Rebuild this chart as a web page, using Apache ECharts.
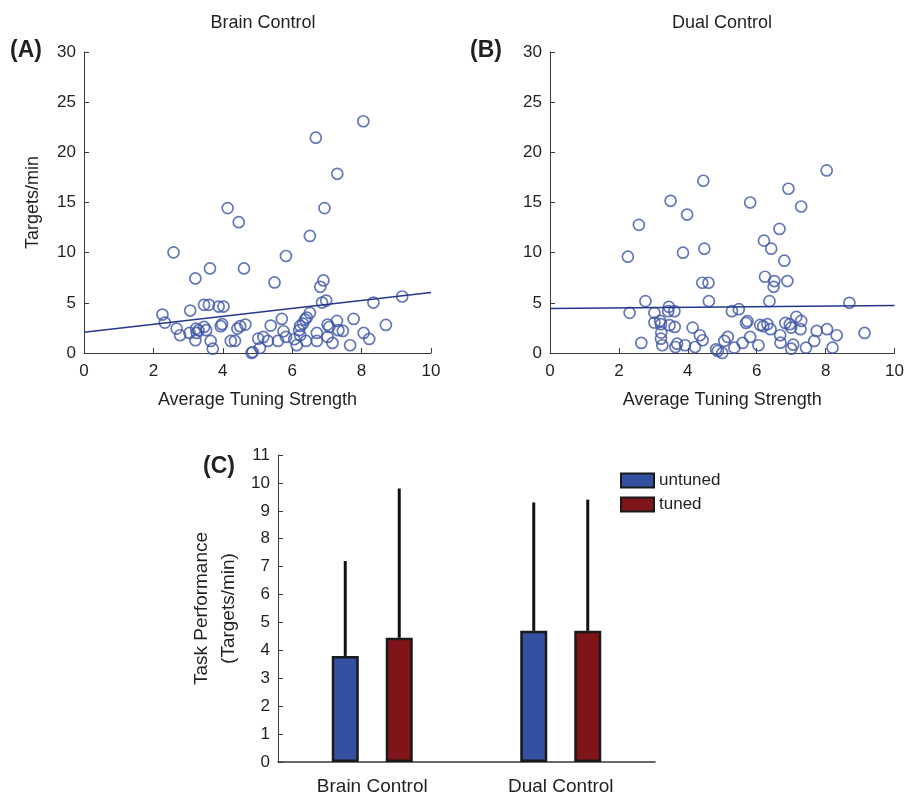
<!DOCTYPE html>
<html>
<head>
<meta charset="utf-8">
<script src="https://cdn.jsdelivr.net/npm/echarts@6/dist/echarts.min.js"></script>
<style>
html,body{margin:0;padding:0;background:#fff;}
#main{width:907px;height:797px;}
</style>
</head>
<body>
<div id="main"></div>
<script>
// ---------- Data ----------
const brainPts = [
  [8.05,23.1],[6.68,21.46],[7.30,17.86],[4.14,14.44],[6.93,14.44],[4.46,13.04],
  [6.51,11.67],[2.58,10.03],[5.82,9.67],[3.63,8.43],[4.61,8.43],[3.21,7.43],
  [5.49,7.03],[6.90,7.23],[6.81,6.6],[9.17,5.63],[8.34,5.03],[6.86,5.03],
  [6.98,5.23],[3.46,4.8],[3.60,4.8],[3.88,4.63],[4.02,4.63],[3.06,4.23],
  [2.26,3.83],[2.33,3.03],[2.67,2.43],[2.77,1.77],[3.04,2.0],[3.23,2.43],
  [3.30,2.27],[3.46,2.6],[3.52,2.27],[3.25,2.0],[3.21,1.27],[3.65,1.2],
  [3.71,0.43],[3.94,2.67],[3.98,2.87],[4.42,2.43],[4.50,2.67],[4.65,2.83],
  [4.23,1.2],[4.35,1.2],[4.83,0.0],[4.86,0.1],[5.07,0.5],[5.02,1.43],
  [5.17,1.6],[5.30,1.2],[5.38,2.73],[5.59,1.2],[5.70,3.4],[5.75,2.17],
  [5.82,1.6],[6.06,1.37],[6.13,0.77],[6.20,2.27],[6.23,2.7],[6.31,2.93],
  [6.37,3.33],[6.42,3.53],[6.51,4.0],[6.23,1.77],[6.40,1.2],[6.71,2.0],
  [6.71,1.2],[7.02,2.83],[7.07,2.6],[7.02,1.6],[7.16,1.0],[7.29,3.2],
  [7.33,2.27],[7.46,2.2],[7.67,0.77],[7.77,3.4],[8.06,2.0],[8.22,1.4],
  [8.70,2.8]
];
const dualPts = [
  [8.03,18.2],[4.45,17.17],[6.92,16.37],[3.50,15.17],[5.81,15.0],[7.29,14.6],
  [3.98,13.8],[2.58,12.77],[6.66,12.37],[6.21,11.2],[6.42,10.4],[3.86,10.0],
  [4.48,10.4],[2.26,9.6],[6.80,9.2],
  [6.24,7.6],[6.51,7.17],[6.49,6.6],[6.89,7.17],[4.42,7.0],[4.60,7.0],
  [2.77,5.17],[4.61,5.17],[6.37,5.17],[8.69,5.0],[2.31,4.0],[3.03,4.0],
  [3.45,4.6],[3.43,4.17],[3.61,4.17],[5.28,4.17],[5.48,4.37],[3.03,3.03],
  [3.20,3.2],[3.22,2.87],[3.47,2.77],[3.62,2.6],[3.23,2.03],[3.22,1.43],
  [3.26,0.77],[2.65,1.0],[3.64,0.6],[3.69,0.93],[3.92,0.77],[4.14,2.53],
  [4.35,1.77],[4.43,1.27],[4.21,0.6],[4.82,0.37],[4.87,0.2],[5.00,0.0],
  [5.06,1.2],[5.16,1.6],[5.35,0.53],[5.59,1.0],[5.81,1.6],[5.69,3.0],
  [5.73,3.17],[6.05,0.77],[6.10,2.8],[6.19,2.67],[6.31,2.87],[6.40,2.37],
  [6.68,1.77],[6.69,1.03],[6.83,3.0],[6.96,2.87],[7.15,3.6],[7.29,3.2],
  [7.00,2.53],[7.27,2.37],[7.06,0.83],[7.00,0.43],[7.43,0.53],[7.67,1.2],
  [7.74,2.2],[8.04,2.37],[8.32,1.77],[8.20,0.53],[9.13,2.0]
];
const fitX = [0, 10];
const brainFitY = [2.07, 6.03];
const dualFitY = [4.44, 4.74];

const barCats = ['Brain Control', 'Dual Control'];
const untunedMean = [3.8, 4.7];
const tunedMean = [4.45, 4.7];
const untunedUpper = [7.2, 9.3];
const tunedUpper = [9.8, 9.4];

// ---------- Style ----------
const TXT = '#231f20';
const AX = '#3a3a3a';
const FONT = "'Liberation Sans Narrow','Liberation Sans',Arial,sans-serif";
const FONT2 = "'Liberation Sans',Arial,sans-serif";
const MARK = '#3d55a5';
const FITC = '#24378c';
const BLUE = '#3450a1';
const RED = '#7f1519';
const BAR_W = 27;

function valAxis(gi, min, max, interval, name, gap, isX) {
  return {
    type: 'value', gridIndex: gi, min: min, max: max, interval: interval,
    name: name, nameLocation: 'middle', nameGap: gap,
    nameTextStyle: { fontFamily: FONT2, fontSize: 18, color: TXT },
    axisLine: { show: true, lineStyle: { color: AX, width: 1 } },
    axisTick: { show: true, inside: true, length: 5, lineStyle: { color: AX } },
    axisLabel: { fontFamily: FONT, fontSize: 17, color: TXT, margin: isX ? 10 : 8 },
    splitLine: { show: false }
  };
}

const scatterStyle = { color: 'rgba(0,0,0,0)', borderColor: MARK, borderWidth: 1.7 };

function errSeries(meanArr, upArr, sign) {
  return {
    type: 'custom', xAxisIndex: 2, yAxisIndex: 2, z: 5,
    data: barCats.map((c, i) => [i, meanArr[i], upArr[i]]),
    renderItem: function (params, api) {
      const p0 = api.coord([api.value(0), api.value(1)]);
      const p1 = api.coord([api.value(0), api.value(2)]);
      const x = p0[0] + sign * BAR_W;
      return {
        type: 'line',
        shape: { x1: x, y1: p0[1], x2: x, y2: p1[1] },
        style: { stroke: '#111', lineWidth: 3 }
      };
    }
  };
}

const option = {
  animation: false,
  backgroundColor: '#fff',
  title: [
    { text: 'Brain Control', left: 258, top: 9, textAlign: 'center',
      textStyle: { fontFamily: FONT2, fontSize: 18, fontWeight: 'normal', color: TXT } },
    { text: 'Dual Control', left: 717, top: 9, textAlign: 'center',
      textStyle: { fontFamily: FONT2, fontSize: 18, fontWeight: 'normal', color: TXT } }
  ],
  graphic: [
    { type: 'text', left: 10, top: 39, style: { text: '(A)', font: "bold 23px 'Liberation Sans', Arial", fill: TXT } },
    { type: 'text', left: 470, top: 39, style: { text: '(B)', font: "bold 23px 'Liberation Sans', Arial", fill: TXT } },
    { type: 'text', left: 203, top: 455, style: { text: '(C)', font: "bold 23px 'Liberation Sans', Arial", fill: TXT } }
  ],
  legend: {
    orient: 'vertical', left: 615, top: 467, itemWidth: 33, itemHeight: 14, itemGap: 7,
    icon: 'rect',
    data: ['untuned', 'tuned'],
    textStyle: { fontFamily: FONT, fontSize: 17, color: TXT }
  },
  grid: [
    { left: 84, right: 476, top: 52, bottom: 444 },
    { left: 550, right: 12, top: 52, bottom: 444 },
    { left: 278, right: 252, top: 455, bottom: 35 }
  ],
  xAxis: [
    valAxis(0, 0, 10, 2, 'Average Tuning Strength', 38, true),
    valAxis(1, 0, 10, 2, 'Average Tuning Strength', 38, true),
    {
      type: 'category', gridIndex: 2, data: barCats,
      axisLine: { show: true, lineStyle: { color: AX, width: 1.5 } },
      axisTick: { show: false },
      axisLabel: { fontFamily: FONT, fontSize: 19, color: TXT, margin: 15 }
    }
  ],
  yAxis: [
    valAxis(0, 0, 30, 5, 'Targets/min', 42, false),
    valAxis(1, 0, 30, 5, '', 40, false),
    Object.assign(valAxis(2, 0, 11, 1, 'Task Performance\n(Targets/min)', 36, false), {
      nameTextStyle: { fontFamily: FONT2, fontSize: 19, color: TXT, lineHeight: 27 }
    })
  ],
  series: [
    { type: 'scatter', xAxisIndex: 0, yAxisIndex: 0, symbol: 'circle', symbolSize: 11,
      itemStyle: scatterStyle, data: brainPts, z: 3 },
    { type: 'line', xAxisIndex: 0, yAxisIndex: 0, symbol: 'none',
      lineStyle: { color: FITC, width: 1.5 },
      data: fitX.map((x, i) => [x, brainFitY[i]]), z: 4 },
    { type: 'scatter', xAxisIndex: 1, yAxisIndex: 1, symbol: 'circle', symbolSize: 11,
      itemStyle: scatterStyle, data: dualPts, z: 3 },
    { type: 'line', xAxisIndex: 1, yAxisIndex: 1, symbol: 'none',
      lineStyle: { color: FITC, width: 1.5 },
      data: fitX.map((x, i) => [x, dualFitY[i]]), z: 4 },
    { name: 'untuned', type: 'bar', xAxisIndex: 2, yAxisIndex: 2, barWidth: BAR_W, barGap: '100%',
      itemStyle: { color: BLUE, borderColor: '#1a1a1a', borderWidth: 2.5 }, data: untunedMean },
    { name: 'tuned', type: 'bar', xAxisIndex: 2, yAxisIndex: 2, barWidth: BAR_W, barGap: '100%',
      itemStyle: { color: RED, borderColor: '#1a1a1a', borderWidth: 2.5 }, data: tunedMean },
    errSeries(untunedMean, untunedUpper, -1),
    errSeries(tunedMean, tunedUpper, 1)
  ]
};

const chart = echarts.init(document.getElementById('main'), null, { renderer: 'canvas' });
chart.setOption(option);
</script>
</body>
</html>
